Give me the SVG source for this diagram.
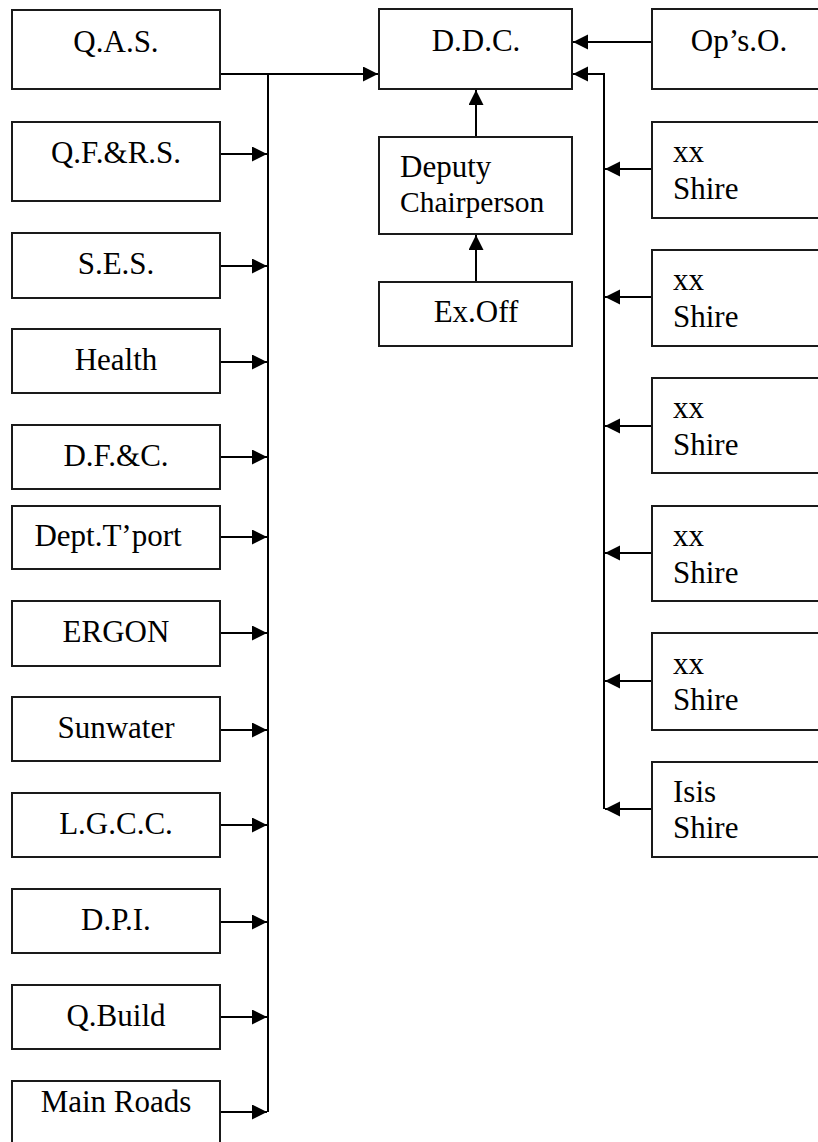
<svg xmlns="http://www.w3.org/2000/svg" width="818" height="1142" viewBox="0 0 818 1142">
<style>
.box{fill:#fff;stroke:#1a1a1a;stroke-width:2}
.t{font-family:'Liberation Serif','DejaVu Serif',serif;font-size:31px;fill:#000}
.c{text-anchor:middle}
.ln{fill:none;stroke:#000;stroke-width:2}
</style>
<defs>
<marker id="ah" markerUnits="userSpaceOnUse" markerWidth="16" markerHeight="16" refX="15" refY="7.5" orient="auto">
<path d="M0,0 L15,7.5 L0,15 z" fill="#000"/>
</marker>
</defs>
<rect width="818" height="1142" fill="#fff"/>

<g id="connectors">
<path class="ln" d="M220,74 H378" marker-end="url(#ah)"/>
<path class="ln" d="M268,74 V1112"/>
<path class="ln" d="M220,154 H267" marker-end="url(#ah)"/>
<path class="ln" d="M220,266 H267" marker-end="url(#ah)"/>
<path class="ln" d="M220,362 H267" marker-end="url(#ah)"/>
<path class="ln" d="M220,457 H267" marker-end="url(#ah)"/>
<path class="ln" d="M220,537 H267" marker-end="url(#ah)"/>
<path class="ln" d="M220,633 H267" marker-end="url(#ah)"/>
<path class="ln" d="M220,730 H267" marker-end="url(#ah)"/>
<path class="ln" d="M220,825 H267" marker-end="url(#ah)"/>
<path class="ln" d="M220,922 H267" marker-end="url(#ah)"/>
<path class="ln" d="M220,1017 H267" marker-end="url(#ah)"/>
<path class="ln" d="M220,1112 H267" marker-end="url(#ah)"/>
<path class="ln" d="M652,42 H573" marker-end="url(#ah)"/>
<path class="ln" d="M604,809 V74 H573" marker-end="url(#ah)"/>
<path class="ln" d="M652,169 H605" marker-end="url(#ah)"/>
<path class="ln" d="M652,297 H605" marker-end="url(#ah)"/>
<path class="ln" d="M652,426 H605" marker-end="url(#ah)"/>
<path class="ln" d="M652,553 H605" marker-end="url(#ah)"/>
<path class="ln" d="M652,681 H605" marker-end="url(#ah)"/>
<path class="ln" d="M652,809 H605" marker-end="url(#ah)"/>
<path class="ln" d="M476,137 V90" marker-end="url(#ah)"/>
<path class="ln" d="M476,282 V235" marker-end="url(#ah)"/>
</g>

<g id="qas"><rect class="box" x="12" y="10" width="208" height="79"/><text class="t c" x="116" y="52">Q.A.S.</text></g>
<g id="qfrs"><rect class="box" x="12" y="122" width="208" height="79"/><text class="t c" x="116" y="163">Q.F.&amp;R.S.</text></g>
<g id="ses"><rect class="box" x="12" y="233" width="208" height="65"/><text class="t c" x="116" y="274">S.E.S.</text></g>
<g id="health"><rect class="box" x="12" y="329" width="208" height="64"/><text class="t c" x="116" y="370">Health</text></g>
<g id="dfc"><rect class="box" x="12" y="425" width="208" height="64"/><text class="t c" x="116" y="466">D.F.&amp;C.</text></g>
<g id="dtport"><rect class="box" x="12" y="506" width="208" height="63"/><text class="t c" x="108" y="546">Dept.T’port</text></g>
<g id="ergon"><rect class="box" x="12" y="601" width="208" height="65"/><text class="t c" x="116" y="642">ERGON</text></g>
<g id="sunwater"><rect class="box" x="12" y="697" width="208" height="64"/><text class="t c" x="116" y="738">Sunwater</text></g>
<g id="lgcc"><rect class="box" x="12" y="793" width="208" height="64"/><text class="t c" x="116" y="834">L.G.C.C.</text></g>
<g id="dpi"><rect class="box" x="12" y="889" width="208" height="64"/><text class="t c" x="116" y="930">D.P.I.</text></g>
<g id="qbuild"><rect class="box" x="12" y="985" width="208" height="64"/><text class="t c" x="116" y="1026">Q.Build</text></g>
<g id="mainroads"><rect class="box" x="12" y="1081" width="208" height="80"/><text class="t c" x="116" y="1112">Main Roads</text></g>

<g id="ddc"><rect class="box" x="379" y="9" width="193" height="80"/><text class="t c" x="476" y="51">D.D.C.</text></g>
<g id="deputy"><rect class="box" x="379" y="137" width="193" height="97"/><text class="t" x="400" y="177">Deputy</text><text class="t" x="400" y="212" style="font-size:29.5px">Chairperson</text></g>
<g id="exoff"><rect class="box" x="379" y="282" width="193" height="64"/><text class="t c" x="476" y="322">Ex.Off</text></g>

<g id="opso"><rect class="box" x="652" y="9" width="180" height="80"/><text class="t c" x="739" y="51">Op’s.O.</text></g>
<g id="shire1"><rect class="box" x="652" y="122" width="180" height="96"/><text class="t" x="673" y="162">xx</text><text class="t" x="673" y="199">Shire</text></g>
<g id="shire2"><rect class="box" x="652" y="250" width="180" height="96"/><text class="t" x="673" y="290">xx</text><text class="t" x="673" y="327">Shire</text></g>
<g id="shire3"><rect class="box" x="652" y="378" width="180" height="95"/><text class="t" x="673" y="418">xx</text><text class="t" x="673" y="455">Shire</text></g>
<g id="shire4"><rect class="box" x="652" y="506" width="180" height="95"/><text class="t" x="673" y="546">xx</text><text class="t" x="673" y="583">Shire</text></g>
<g id="shire5"><rect class="box" x="652" y="633" width="180" height="97"/><text class="t" x="673" y="674">xx</text><text class="t" x="673" y="710">Shire</text></g>
<g id="isis"><rect class="box" x="652" y="762" width="180" height="95"/><text class="t" x="673" y="802">Isis</text><text class="t" x="673" y="838">Shire</text></g>
</svg>
